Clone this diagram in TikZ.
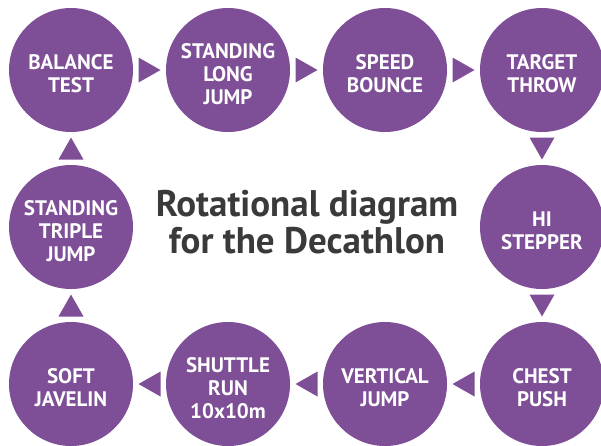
\documentclass[tikz,border=0pt]{standalone}
\usepackage{fontspec}
\setmainfont{PT Sans}
\usetikzlibrary{calc}
\definecolor{decapurple}{RGB}{126,79,151}
\definecolor{titlegray}{RGB}{58,58,58}
\begin{document}
\begin{tikzpicture}[x=1pt, y=-1pt, line join=round,
	stn/.style={circle, fill=decapurple, minimum size=124pt, inner sep=0pt},
	stntext/.style={text=white, font=\bfseries\fontsize{21}{23}\selectfont, align=center, inner sep=0pt},
	ttl/.style={text=titlegray, font=\bfseries\fontsize{37}{37}\selectfont, align=center, inner sep=0pt}]
	\useasboundingbox (0,0) rectangle (601,445);
	\def\dx{157}
	% stations, clockwise from top left
	\foreach \n/\i/\j/\t in {
		bal/0/0/{BALANCE\\TEST},
		slj/1/0/{STANDING\\LONG\\JUMP},
		spb/2/0/{SPEED\\BOUNCE},
		tgt/3/0/{TARGET\\THROW},
		his/3/1/{HI\\STEPPER},
		chp/3/2/{CHEST\\PUSH},
		vtj/2/2/{VERTICAL\\JUMP},
		shr/1/2/{SHUTTLE\\RUN\\10x10m},
		sjv/0/2/{SOFT\\JAVELIN},
		stj/0/1/{STANDING\\TRIPLE\\JUMP}}
	{
		\node[stn] (\n) at (71+\i*\dx, 70+\j*\dx) {};
		\node[stntext] (\n-t) at ([yshift=-4pt]\n.center) {\t};
	}
	% triangles between stations
	\foreach \a/\b/\r in {bal/slj/0, slj/spb/0, spb/tgt/0, tgt/his/270, his/chp/270,
		chp/vtj/180, vtj/shr/180, shr/sjv/180, sjv/stj/90, stj/bal/90}
	{
		\path (\a) -- coordinate[midway] (\a-\b) (\b);
		\fill[decapurple, shift={(\a-\b)}, rotate=\r] (-11,-12.5) -- (11,0) -- (-11,12.5) -- cycle;
	}
	\node[ttl] (title) at (307,222) {Rotational diagram\\for the Decathlon};
\end{tikzpicture}
\end{document}
